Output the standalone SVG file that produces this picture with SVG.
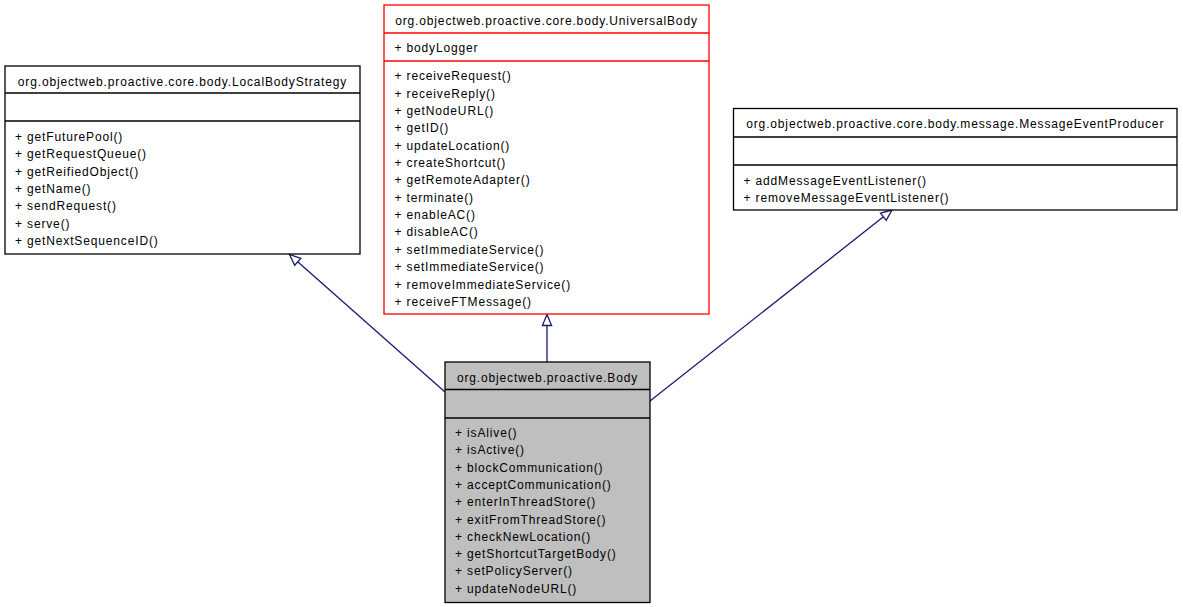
<svg xmlns="http://www.w3.org/2000/svg" width="1183" height="607" viewBox="0 0 1183 607">
<style>
text{font-family:"Liberation Sans",Arial,sans-serif;font-size:12px;letter-spacing:0.85px;fill:#000}
.t{text-anchor:middle}
.box{fill:#fff;stroke:#000;stroke-width:1.3}
.red{fill:#fff;stroke:#ff0000;stroke-width:1.3}
.grey{fill:#bfbfbf;stroke:#000;stroke-width:1.3}
.dk{stroke:#000;stroke-width:1.3}
.dr{stroke:#ff0000;stroke-width:1.3}
.edge{fill:none;stroke:#191970;stroke-width:1.3}
</style>
<defs>
<marker id="tri" markerUnits="userSpaceOnUse" markerWidth="16" markerHeight="14" viewBox="-13 -7 16 14" refX="0" refY="0" orient="auto">
<path d="M0,0 L-11,-4.6 L-11,4.6 Z" fill="#fff" stroke="#191970" stroke-width="1.3"/>
</marker>
</defs>
<rect width="1183" height="607" fill="#fff"/>
<g id="edges">
<path class="edge" d="M445,392 L289.5,254.5" marker-end="url(#tri)"/>
<path class="edge" d="M547,362 L547,314.5" marker-end="url(#tri)"/>
<path class="edge" d="M650,401 L892,210" marker-end="url(#tri)"/>
</g>
<g id="LocalBodyStrategy">
<rect class="box" x="5" y="66" width="355" height="188"/>
<line class="dk" x1="5" y1="93" x2="360" y2="93"/>
<line class="dk" x1="5" y1="121" x2="360" y2="121"/>
<text class="t" x="182.5" y="85.5">org.objectweb.proactive.core.body.LocalBodyStrategy</text>
<text x="15" y="141">+ getFuturePool()</text>
<text x="15" y="158.3">+ getRequestQueue()</text>
<text x="15" y="175.6">+ getReifiedObject()</text>
<text x="15" y="192.9">+ getName()</text>
<text x="15" y="210.2">+ sendRequest()</text>
<text x="15" y="227.5">+ serve()</text>
<text x="15" y="244.8">+ getNextSequenceID()</text>
</g>
<g id="UniversalBody">
<rect class="red" x="384" y="5" width="325" height="309"/>
<line class="dr" x1="384" y1="33" x2="709" y2="33"/>
<line class="dr" x1="384" y1="61" x2="709" y2="61"/>
<text class="t" x="546.5" y="24.5">org.objectweb.proactive.core.body.UniversalBody</text>
<text x="394.5" y="51.7">+ bodyLogger</text>
<text x="394.5" y="80.3">+ receiveRequest()</text>
<text x="394.5" y="97.65">+ receiveReply()</text>
<text x="394.5" y="115">+ getNodeURL()</text>
<text x="394.5" y="132.35">+ getID()</text>
<text x="394.5" y="149.7">+ updateLocation()</text>
<text x="394.5" y="167.05">+ createShortcut()</text>
<text x="394.5" y="184.4">+ getRemoteAdapter()</text>
<text x="394.5" y="201.75">+ terminate()</text>
<text x="394.5" y="219.1">+ enableAC()</text>
<text x="394.5" y="236.45">+ disableAC()</text>
<text x="394.5" y="253.8">+ setImmediateService()</text>
<text x="394.5" y="271.15">+ setImmediateService()</text>
<text x="394.5" y="288.5">+ removeImmediateService()</text>
<text x="394.5" y="305.85">+ receiveFTMessage()</text>
</g>
<g id="MessageEventProducer">
<rect class="box" x="733.5" y="108.5" width="443.5" height="101.5"/>
<line class="dk" x1="733.5" y1="137" x2="1177" y2="137"/>
<line class="dk" x1="733.5" y1="165" x2="1177" y2="165"/>
<text class="t" x="955.25" y="128">org.objectweb.proactive.core.body.message.MessageEventProducer</text>
<text x="743.5" y="184.5">+ addMessageEventListener()</text>
<text x="743.5" y="201.8">+ removeMessageEventListener()</text>
</g>
<g id="Body">
<rect class="grey" x="445" y="362" width="205" height="240.5"/>
<line class="dk" x1="445" y1="389.5" x2="650" y2="389.5"/>
<line class="dk" x1="445" y1="418" x2="650" y2="418"/>
<text class="t" x="547.5" y="381.8">org.objectweb.proactive.Body</text>
<text x="455" y="437">+ isAlive()</text>
<text x="455" y="454.3">+ isActive()</text>
<text x="455" y="471.6">+ blockCommunication()</text>
<text x="455" y="488.9">+ acceptCommunication()</text>
<text x="455" y="506.2">+ enterInThreadStore()</text>
<text x="455" y="523.5">+ exitFromThreadStore()</text>
<text x="455" y="540.8">+ checkNewLocation()</text>
<text x="455" y="558.1">+ getShortcutTargetBody()</text>
<text x="455" y="575.4">+ setPolicyServer()</text>
<text x="455" y="592.7">+ updateNodeURL()</text>
</g>
</svg>
